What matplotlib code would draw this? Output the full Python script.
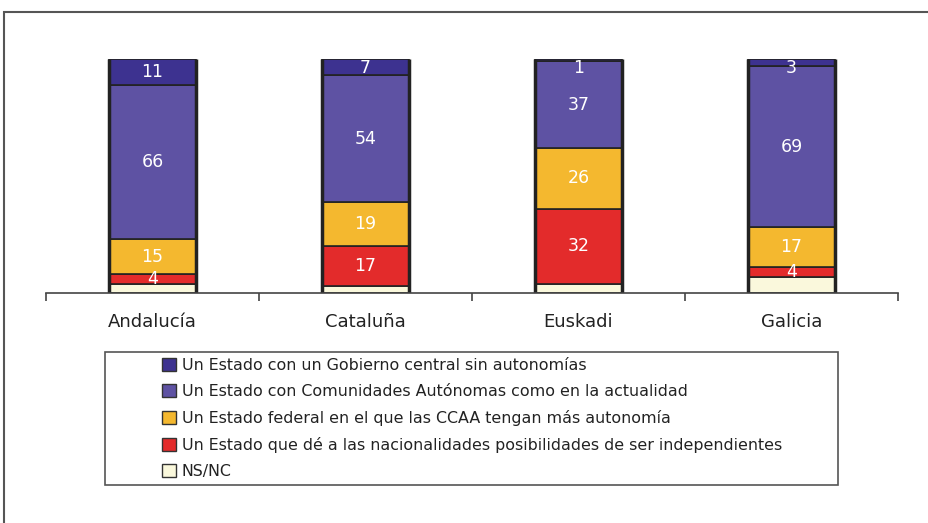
import matplotlib
matplotlib.use("Agg")
import matplotlib.pyplot as plt
from matplotlib.patches import Rectangle, Patch
import numpy as np

regions = ["Andalucía", "Cataluña", "Euskadi", "Galicia"]

# bottom to top
nsnc = [4, 3, 4, 7]
independiente = [4, 17, 32, 4]
federal = [15, 19, 26, 17]
actual = [66, 54, 37, 69]
central = [11, 7, 1, 3]

series_names = [
    "NS/NC",
    "Un Estado que dé a las nacionalidades posibilidades de ser independientes",
    "Un Estado federal en el que las CCAA tengan más autonomía",
    "Un Estado con Comunidades Autónomas como en la actualidad",
    "Un Estado con un Gobierno central sin autonomías",
]
colors = ["#FAF8DC", "#E32B2B", "#F4B82F", "#5E52A3", "#3D3290"]
show_label = [False, True, True, True, True]

W, H = 929, 523
fig = plt.figure(figsize=(W / 100, H / 100), dpi=100)

# outer frame (runs off the right and bottom edges)
fig.patches.append(Rectangle((4 / W, -0.1), 1.2, (H - 12) / H + 0.1,
                             transform=fig.transFigure, fill=False,
                             edgecolor="#555555", linewidth=1.5))

ax = fig.add_axes([46 / W, (H - 293) / H, (898 - 46) / W, (293 - 59) / H])

x = np.arange(len(regions))
bottom = np.zeros(len(regions))
handles = []
all_series = [nsnc, independiente, federal, actual, central]
totals = np.sum(np.array(all_series, dtype=float), axis=0)
for vals, name, col, lab in zip(all_series, series_names, colors, show_label):
    vals = np.array(vals, dtype=float)
    ax.bar(x, vals, width=0.41, bottom=bottom, color=col,
           edgecolor="#222222", linewidth=1.2)
    if lab:
        for xi, b, v, t in zip(x, bottom, vals, totals):
            # small top segments: label kept a bit under the bar top
            yl = min(b + v / 2, t - 3.8)
            ax.text(xi, yl, f"{int(v)}", ha="center", va="center",
                    color="white", fontsize=12.5)
    handles.append(Patch(facecolor=col, edgecolor="#333333", linewidth=1))
    bottom += vals

# thick side lines of each bar
for xi, top in zip(x, bottom):
    ax.plot([xi - 0.205, xi - 0.205], [0, top], color="#222222", lw=2.5,
            solid_capstyle="butt")
    ax.plot([xi + 0.205, xi + 0.205], [0, top], color="#222222", lw=2.5,
            solid_capstyle="butt")

ax.set_xlim(-0.5, 3.5)
ax.set_ylim(0, 100)
for s in ["top", "right", "left"]:
    ax.spines[s].set_visible(False)
ax.spines["bottom"].set_color("#444444")
ax.spines["bottom"].set_linewidth(1.2)
ax.set_yticks([])
ax.set_xticks(np.arange(-0.5, 4, 1))
ax.set_xticklabels([])
ax.tick_params(axis="x", direction="out", length=6, color="#444444", width=1.2)
for xi, r in zip(x, regions):
    ax.text(xi, -12.5, r, ha="center", va="center", fontsize=13, color="#222222")

# legend box
fig.patches.append(Rectangle((105 / W, (H - 485) / H), (838 - 105) / W, (485 - 352) / H,
                             transform=fig.transFigure, facecolor="white",
                             edgecolor="#555555", linewidth=1.2))
fig.legend(handles[::-1], series_names[::-1], loc="upper left",
           bbox_to_anchor=(162 / W, (H - 358) / H), frameon=False,
           fontsize=11.4, handlelength=0.9, handleheight=0.9, handletextpad=0.35,
           labelspacing=0.69, borderpad=0, borderaxespad=0,
           labelcolor="#222222")

fig.savefig("out.png", dpi=100)
